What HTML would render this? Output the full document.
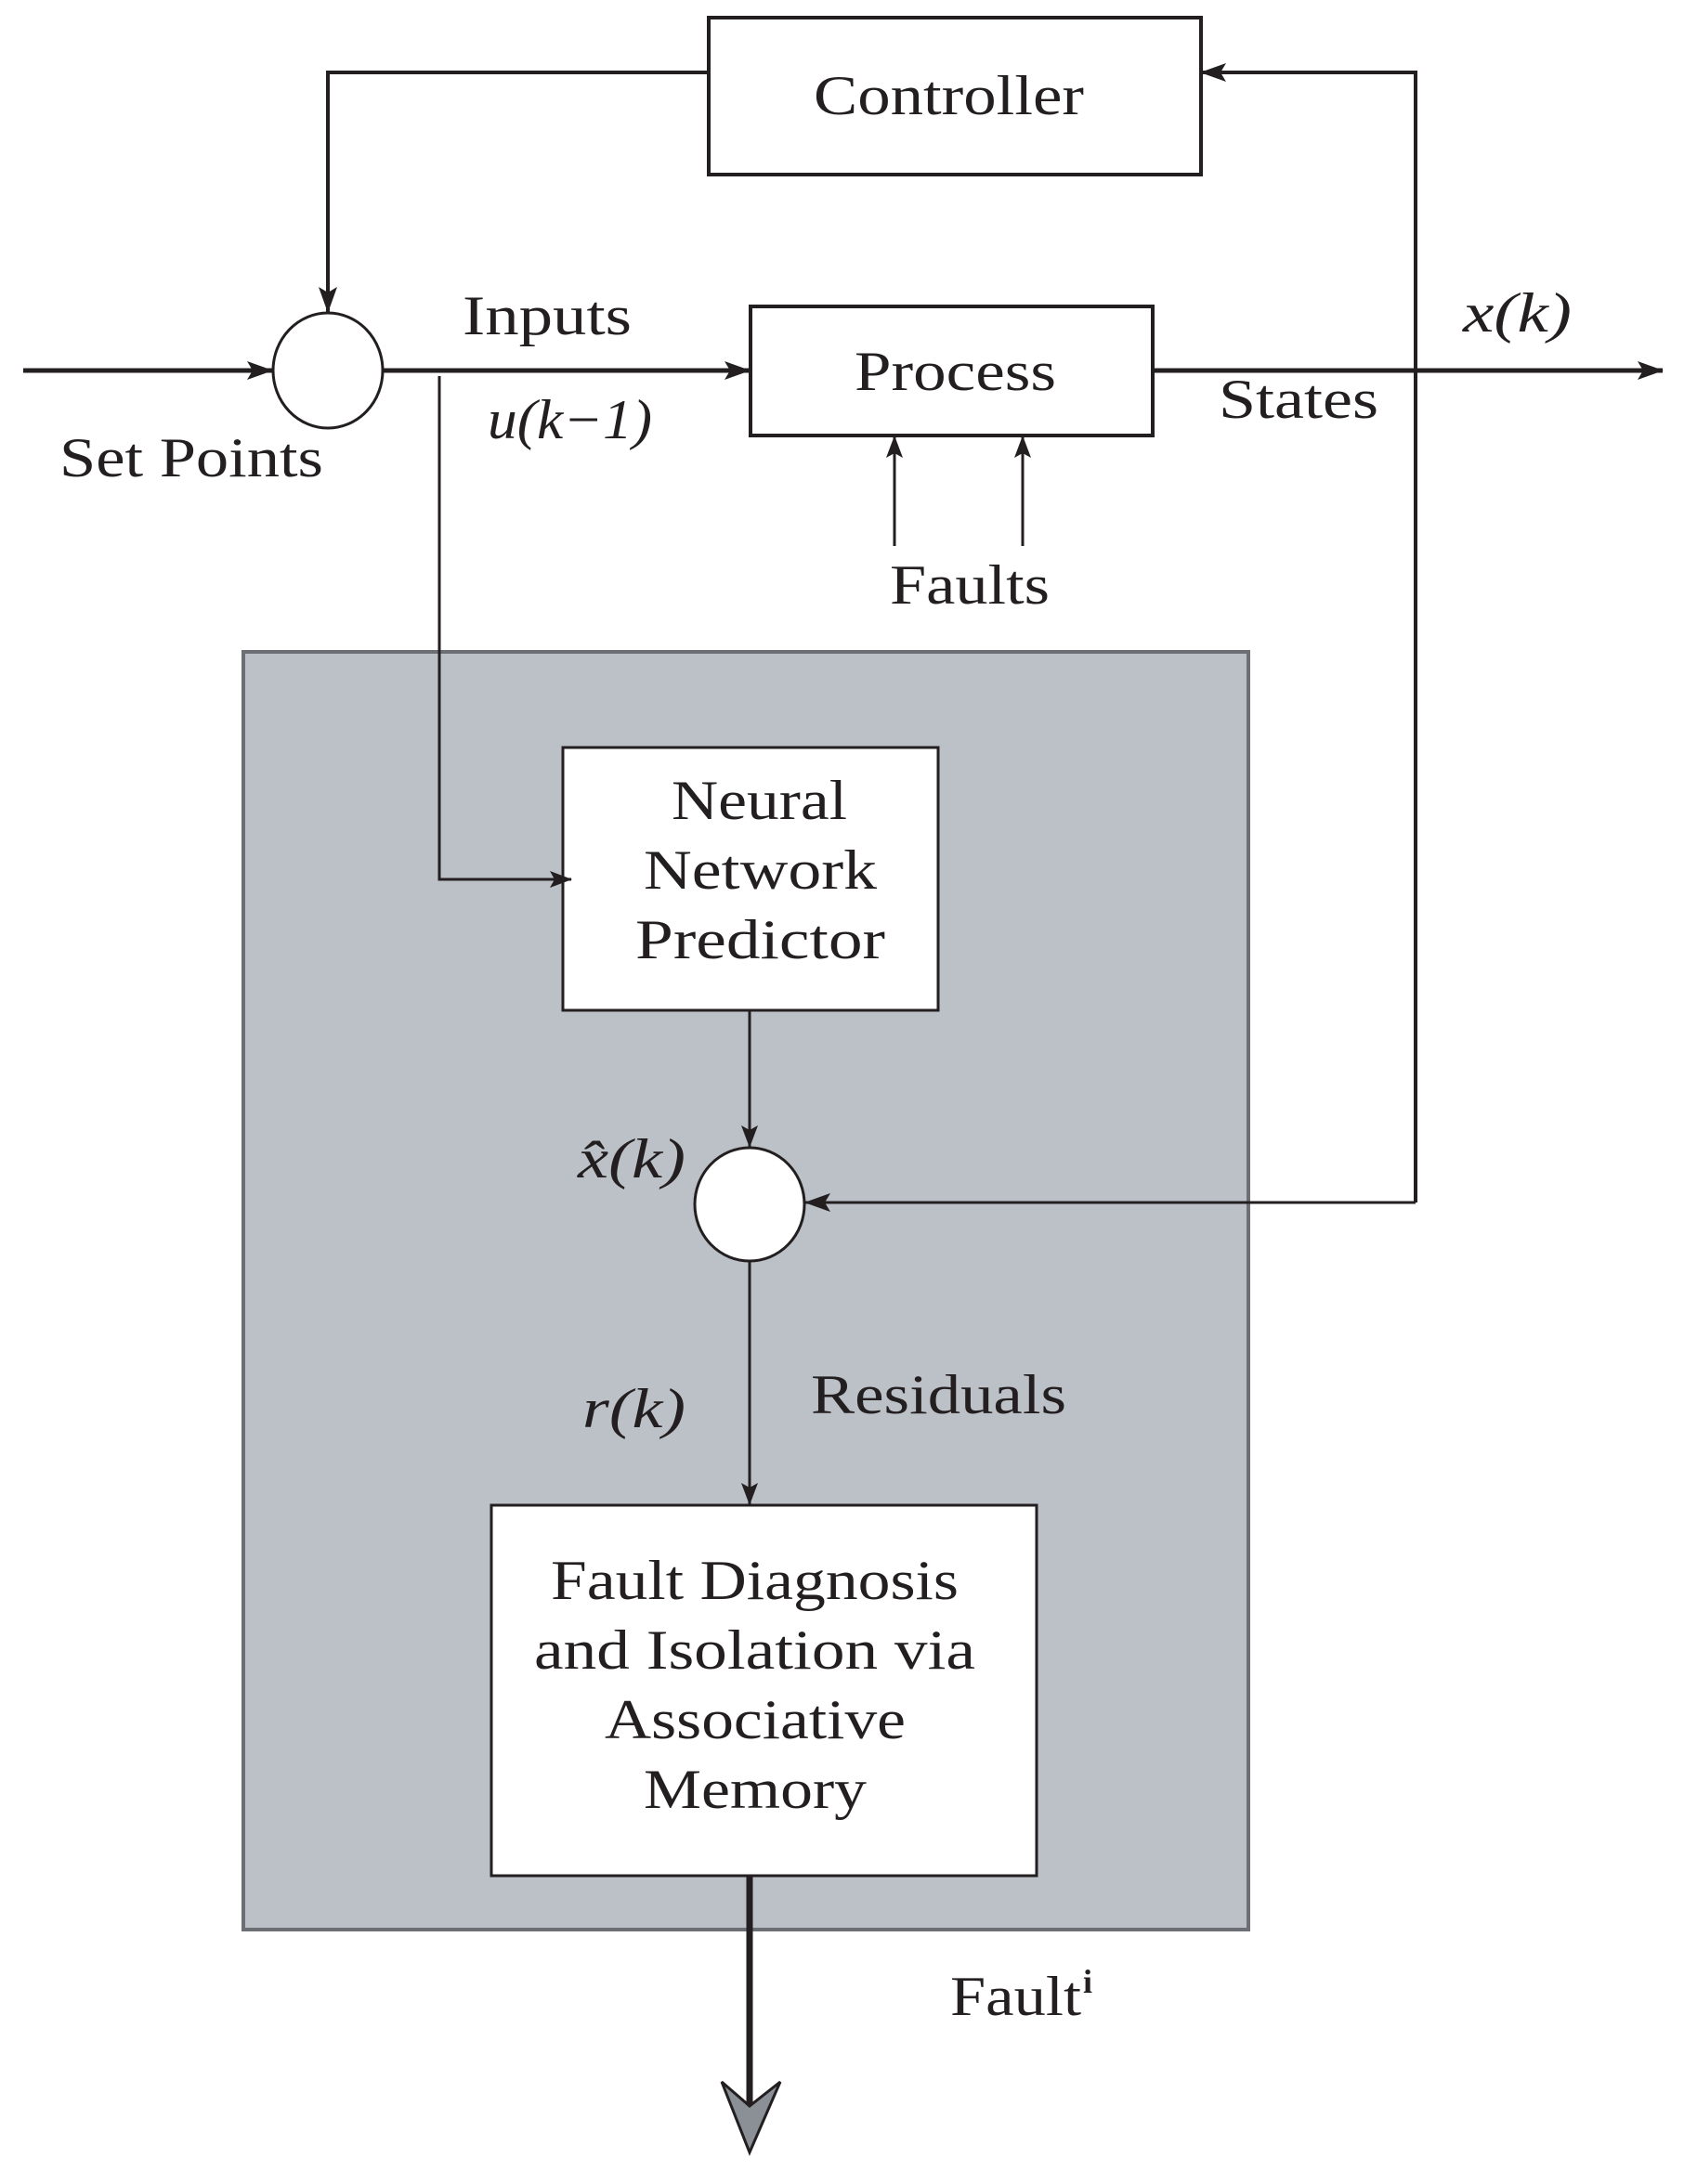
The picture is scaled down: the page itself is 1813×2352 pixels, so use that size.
<!DOCTYPE html>
<html><head><meta charset="utf-8"><style>html,body{margin:0;padding:0;background:#fff}svg{display:block}</style></head><body>
<svg width="1813" height="2352" viewBox="0 0 1813 2352" xmlns="http://www.w3.org/2000/svg" font-family="'Liberation Serif', serif" font-size="60" fill="#231f20">
<defs>
<marker id="a" markerWidth="24" markerHeight="18" refX="23" refY="9" orient="auto" markerUnits="userSpaceOnUse"><path d="M0,0 L24,9 L0,18 L5,9 Z" fill="#231f20"/></marker>
<marker id="b" markerWidth="28" markerHeight="20" refX="27" refY="10" orient="auto" markerUnits="userSpaceOnUse"><path d="M0,0 L28,10 L0,20 L6,10 Z" fill="#231f20"/></marker>
</defs>
<rect x="262" y="702" width="1082" height="1376" fill="#bcc1c7" stroke="#6c7075" stroke-width="4"/>
<g stroke="#231f20" fill="none">
<rect x="763" y="19" width="530" height="169" stroke-width="4" fill="#fff"/>
<rect x="808" y="330" width="433" height="139" stroke-width="4" fill="#fff"/>
<rect x="606" y="805" width="404" height="283" stroke-width="3" fill="#fff"/>
<rect x="529" y="1621" width="587" height="399" stroke-width="3" fill="#fff"/>
<ellipse cx="353" cy="399" rx="59" ry="62" stroke-width="3" fill="#fff"/>
<ellipse cx="807" cy="1297" rx="59" ry="61" stroke-width="3" fill="#fff"/>
<line x1="25" y1="399" x2="293" y2="399" stroke-width="5" marker-end="url(#b)"/>
<line x1="413" y1="399" x2="807" y2="399" stroke-width="5" marker-end="url(#b)"/>
<line x1="1241" y1="399" x2="1790" y2="399" stroke-width="5" marker-end="url(#b)"/>
<polyline points="763,78 353,78 353,336" stroke-width="4" marker-end="url(#b)"/>
<polyline points="1524,1295 1524,78 1293,78" stroke-width="4" marker-end="url(#b)"/>
<polyline points="473,405 473,947 615,947" stroke-width="3" marker-end="url(#a)"/>
<line x1="963" y1="588" x2="963" y2="470" stroke-width="3" marker-end="url(#a)"/>
<line x1="1101" y1="588" x2="1101" y2="470" stroke-width="3" marker-end="url(#a)"/>
<line x1="807" y1="1088" x2="807" y2="1235" stroke-width="3" marker-end="url(#a)"/>
<line x1="1524" y1="1295" x2="867" y2="1295" stroke-width="3" marker-end="url(#b)"/>
<line x1="807" y1="1358" x2="807" y2="1620" stroke-width="3" marker-end="url(#a)"/>
<line x1="807" y1="2020" x2="807" y2="2270" stroke-width="7"/>
</g>
<path d="M777,2242 L807,2318 L840,2242 L807,2268 Z" fill="#8a9096" stroke="#231f20" stroke-width="3"/>
<g lengthAdjust="spacingAndGlyphs">
<text x="876" y="123" textLength="291" lengthAdjust="spacingAndGlyphs">Controller</text>
<text x="498" y="360" textLength="182" lengthAdjust="spacingAndGlyphs">Inputs</text>
<text x="525" y="472" font-style="italic" textLength="177" lengthAdjust="spacingAndGlyphs">u(k−1)</text>
<text x="920" y="420" textLength="217" lengthAdjust="spacingAndGlyphs">Process</text>
<text x="1312" y="450" textLength="172" lengthAdjust="spacingAndGlyphs">States</text>
<text x="1575" y="357" font-style="italic" textLength="117" lengthAdjust="spacingAndGlyphs">x(k)</text>
<text x="64" y="513" textLength="284" lengthAdjust="spacingAndGlyphs">Set Points</text>
<text x="958" y="650" textLength="172" lengthAdjust="spacingAndGlyphs">Faults</text>
<text x="723" y="882" textLength="189" lengthAdjust="spacingAndGlyphs">Neural</text>
<text x="693" y="957" textLength="251" lengthAdjust="spacingAndGlyphs">Network</text>
<text x="684" y="1032" textLength="269" lengthAdjust="spacingAndGlyphs">Predictor</text>
<text x="622" y="1268" font-style="italic" textLength="116" lengthAdjust="spacingAndGlyphs">x̂(k)</text>
<text x="627" y="1537" font-style="italic" textLength="111" lengthAdjust="spacingAndGlyphs">r(k)</text>
<text x="873" y="1522" textLength="275" lengthAdjust="spacingAndGlyphs">Residuals</text>
<text x="593" y="1722" textLength="439" lengthAdjust="spacingAndGlyphs">Fault Diagnosis</text>
<text x="575" y="1797" textLength="475" lengthAdjust="spacingAndGlyphs">and Isolation via</text>
<text x="651" y="1872" textLength="324" lengthAdjust="spacingAndGlyphs">Associative</text>
<text x="693" y="1947" textLength="240" lengthAdjust="spacingAndGlyphs">Memory</text>
<text x="1023" y="2170" textLength="141" lengthAdjust="spacingAndGlyphs">Fault</text>
</g>
<text x="1166" y="2146" font-size="36" font-weight="bold">i</text>
</svg>
</body></html>
